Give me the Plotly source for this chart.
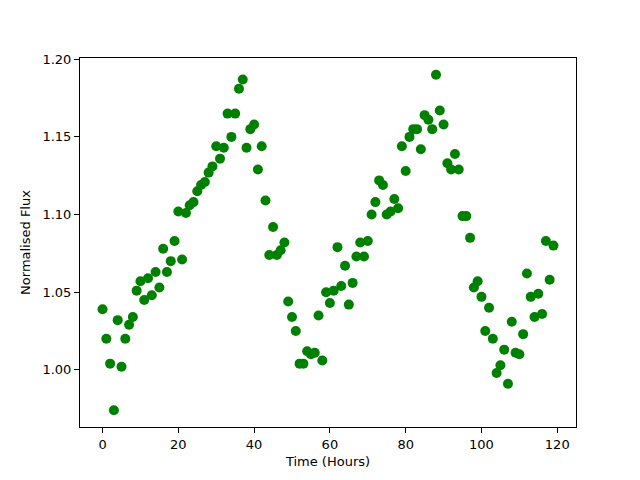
import plotly.graph_objects as go

time_hours = list(range(120))
flux = [1.039, 1.020, 1.004, 0.974, 1.032, 1.002, 1.020, 1.029, 1.034, 1.051,
        1.057, 1.045, 1.059, 1.048, 1.063, 1.053, 1.078, 1.063, 1.070, 1.083,
        1.102, 1.071, 1.101, 1.106, 1.108, 1.115, 1.119, 1.121, 1.127, 1.131,
        1.144, 1.136, 1.143, 1.165, 1.150, 1.165, 1.181, 1.187, 1.143, 1.155,
        1.158, 1.129, 1.144, 1.109, 1.074, 1.092, 1.074, 1.077, 1.082, 1.044,
        1.034, 1.025, 1.004, 1.004, 1.012, 1.010, 1.011, 1.035, 1.006, 1.050,
        1.043, 1.051, 1.079, 1.054, 1.067, 1.042, 1.056, 1.073, 1.082, 1.073,
        1.083, 1.100, 1.108, 1.122, 1.119, 1.100, 1.102, 1.110, 1.104, 1.144,
        1.128, 1.150, 1.155, 1.155, 1.142, 1.164, 1.161, 1.155, 1.190, 1.167,
        1.158, 1.133, 1.129, 1.139, 1.129, 1.099, 1.099, 1.085, 1.053, 1.057,
        1.047, 1.025, 1.040, 1.020, 0.998, 1.003, 1.013, 0.991, 1.031, 1.011,
        1.010, 1.023, 1.062, 1.047, 1.034, 1.049, 1.036, 1.083, 1.058, 1.080]

x_ticks = [0, 20, 40, 60, 80, 100, 120]
y_ticks = [1.00, 1.05, 1.10, 1.15, 1.20]

fig = go.Figure()
fig.add_trace(go.Scatter(x=time_hours, y=flux, mode="markers",
                         marker=dict(color="green", size=10, line=dict(width=0))))

axis_common = dict(showline=True, linecolor="black", linewidth=1, mirror=True,
                   ticks="outside", ticklen=5, tickcolor="black", showgrid=False,
                   zeroline=False, tickfont=dict(size=13, color="black"))
fig.update_xaxes(range=[-5.95, 124.95], tickvals=x_ticks,
                 title=dict(text="Time (Hours)", font=dict(size=13, color="black"), standoff=6),
                 **axis_common)
fig.update_yaxes(range=[0.9632, 1.2008], tickvals=y_ticks, tickformat=".2f",
                 title=dict(text="Normalised Flux", font=dict(size=13, color="black"), standoff=8),
                 **axis_common)
fig.update_layout(width=640, height=480, margin=dict(l=72, r=72, t=50, b=61),
                  paper_bgcolor="white", plot_bgcolor="white", showlegend=False,
                  font=dict(family="DejaVu Sans"))
fig.write_html("out.html")
